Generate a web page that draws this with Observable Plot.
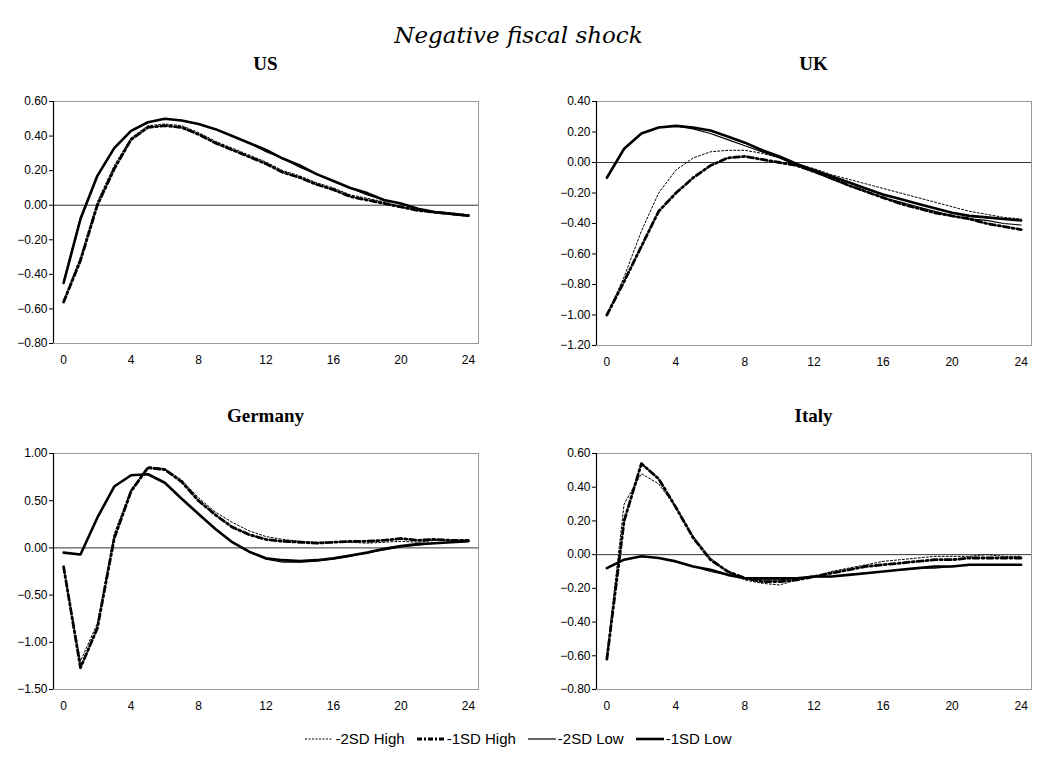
<!DOCTYPE html>
<html>
<head>
<meta charset="utf-8">
<script src="https://cdn.jsdelivr.net/npm/d3@7"></script>
<script src="https://cdn.jsdelivr.net/npm/@observablehq/plot@0.6"></script>
<style>
  body { margin: 0; background: #fff; }
  #root { position: relative; width: 1037px; height: 769px; }
  .abs { position: absolute; }
  .title { font-family: "DejaVu Serif", serif; font-style: italic; font-size: 23px; width: 1037px; text-align: center; top: 22px; left: 0; }
  .ptitle { font-family: "Liberation Serif", serif; font-weight: bold; font-size: 19px; text-align: center; }
  .legend { font-family: "Liberation Sans", Arial, sans-serif; font-size: 15px; top: 730px; left: 0; width: 1037px; display: flex; justify-content: center; gap: 12px; align-items: center; }
  .legend span { display: flex; align-items: center; gap: 2px; }
</style>
</head>
<body>
<div id="root">
  <div class="abs title">Negative fiscal shock</div>
</div>
<script>
// horizon 0..24
var steps = d3.range(0, 25);
var seriesNames = ["-2SD High", "-1SD High", "-2SD Low", "-1SD Low"];

// US
var usHigh2 = [-0.55,-0.30,0.02,0.23,0.39,0.46,0.47,0.46,0.42,0.37,0.33,0.29,0.25,0.20,0.17,0.13,0.10,0.06,0.04,0.02,-0.01,-0.03,-0.04,-0.05,-0.06];
var usHigh1 = [-0.56,-0.32,0.00,0.21,0.38,0.45,0.46,0.45,0.41,0.36,0.32,0.28,0.24,0.19,0.16,0.12,0.09,0.05,0.03,0.01,-0.01,-0.03,-0.04,-0.05,-0.06];
var usLow2 = [-0.44,-0.07,0.17,0.33,0.43,0.48,0.50,0.49,0.47,0.44,0.40,0.36,0.31,0.27,0.22,0.18,0.14,0.10,0.06,0.03,0.01,-0.02,-0.04,-0.05,-0.06];
var usLow1 = [-0.45,-0.08,0.17,0.33,0.43,0.48,0.50,0.49,0.47,0.44,0.40,0.36,0.32,0.27,0.23,0.18,0.14,0.10,0.07,0.03,0.01,-0.02,-0.04,-0.05,-0.06];

// UK
var ukHigh2 = [-1.00,-0.75,-0.45,-0.20,-0.05,0.03,0.07,0.08,0.08,0.06,0.03,-0.01,-0.04,-0.08,-0.11,-0.14,-0.17,-0.20,-0.23,-0.26,-0.29,-0.32,-0.34,-0.36,-0.37];
var ukHigh1 = [-1.00,-0.78,-0.55,-0.32,-0.20,-0.10,-0.02,0.03,0.04,0.02,0.00,-0.02,-0.06,-0.10,-0.15,-0.19,-0.23,-0.27,-0.30,-0.33,-0.35,-0.37,-0.40,-0.42,-0.44];
var ukLow2 = [-0.10,0.09,0.19,0.23,0.24,0.22,0.19,0.15,0.11,0.07,0.03,-0.02,-0.06,-0.11,-0.15,-0.19,-0.23,-0.26,-0.29,-0.32,-0.35,-0.37,-0.38,-0.40,-0.41];
var ukLow1 = [-0.10,0.09,0.19,0.23,0.24,0.23,0.21,0.17,0.13,0.08,0.04,-0.01,-0.05,-0.09,-0.13,-0.17,-0.21,-0.24,-0.27,-0.30,-0.33,-0.35,-0.36,-0.37,-0.38];

// Germany
var deHigh2 = [-0.22,-1.20,-0.80,0.15,0.62,0.86,0.84,0.72,0.53,0.38,0.27,0.18,0.12,0.09,0.07,0.06,0.06,0.06,0.05,0.06,0.07,0.06,0.08,0.08,0.08];
var deHigh1 = [-0.20,-1.27,-0.85,0.10,0.60,0.85,0.83,0.70,0.50,0.35,0.22,0.14,0.09,0.07,0.06,0.05,0.06,0.07,0.07,0.08,0.10,0.08,0.09,0.08,0.08];
var deLow2 = [-0.05,-0.07,0.32,0.65,0.77,0.78,0.69,0.52,0.36,0.20,0.06,-0.04,-0.12,-0.15,-0.15,-0.14,-0.12,-0.09,-0.05,-0.02,0.01,0.03,0.05,0.06,0.07];
var deLow1 = [-0.05,-0.07,0.32,0.65,0.77,0.78,0.69,0.52,0.36,0.20,0.06,-0.04,-0.11,-0.13,-0.14,-0.13,-0.11,-0.08,-0.05,-0.01,0.02,0.04,0.05,0.06,0.07];

// Italy
var itHigh2 = [-0.60,0.30,0.48,0.42,0.28,0.11,-0.02,-0.10,-0.15,-0.17,-0.18,-0.15,-0.13,-0.10,-0.08,-0.06,-0.04,-0.03,-0.02,-0.01,-0.01,-0.01,0.00,-0.01,-0.01];
var itHigh1 = [-0.62,0.20,0.54,0.45,0.28,0.10,-0.03,-0.10,-0.14,-0.16,-0.16,-0.15,-0.13,-0.11,-0.09,-0.07,-0.06,-0.05,-0.04,-0.03,-0.03,-0.02,-0.02,-0.02,-0.02];
var itLow2 = [-0.08,-0.03,-0.01,-0.02,-0.04,-0.07,-0.10,-0.12,-0.14,-0.15,-0.15,-0.14,-0.13,-0.13,-0.12,-0.11,-0.10,-0.09,-0.08,-0.08,-0.07,-0.06,-0.06,-0.06,-0.06];
var itLow1 = [-0.08,-0.03,-0.01,-0.02,-0.04,-0.07,-0.09,-0.12,-0.14,-0.14,-0.14,-0.14,-0.13,-0.13,-0.12,-0.11,-0.10,-0.09,-0.08,-0.07,-0.07,-0.06,-0.06,-0.06,-0.06];

// line styles per series
var styles = [
  { width: 1, dash: "2,2" },
  { width: 2.8, dash: "6,3,2,3" },
  { width: 1.2, dash: null },
  { width: 2.6, dash: null }
];

var panels = [
  { name: "US", series: [usHigh2, usHigh1, usLow2, usLow1], domain: [-0.8, 0.6], step: 0.2, left: 0, top: 91, h: 242, ml: 53, mr: 12, w: 490 },
  { name: "UK", series: [ukHigh2, ukHigh1, ukLow2, ukLow1], domain: [-1.2, 0.4], step: 0.2, left: 540, top: 91, h: 244, ml: 56, mr: 6, w: 497 },
  { name: "Germany", series: [deHigh2, deHigh1, deLow2, deLow1], domain: [-1.5, 1.0], step: 0.5, left: 0, top: 443, h: 236, ml: 53, mr: 12, w: 490 },
  { name: "Italy", series: [itHigh2, itHigh1, itLow2, itLow1], domain: [-0.8, 0.6], step: 0.2, left: 540, top: 443, h: 236, ml: 56, mr: 6, w: 497 }
];

var root = document.getElementById("root");

panels.forEach(function(p) {
  var marks = [
    Plot.frame({ stroke: "#999" }),
    Plot.ruleY([0], { stroke: "#000", strokeWidth: 0.8 }),
    Plot.ruleX([-0.6], { stroke: "#000", strokeWidth: 1.2 }),
    Plot.axisY({ ticks: d3.range(p.domain[0], p.domain[1] + 1e-9, p.step), tickFormat: d3.format(".2f"), tickSize: 4, tickPadding: 2, fontSize: 12, label: null }),
    Plot.axisX({ ticks: d3.range(0, 25, 4), tickSize: 0, tickPadding: 12, fontSize: 12, label: null })
  ];
  p.series.forEach(function(vals, i) {
    var rows = steps.map(function(s) { return { x: s, y: vals[s] }; });
    marks.push(Plot.line(rows, {
      x: "x", y: "y", stroke: "#000",
      strokeWidth: styles[i].width,
      strokeDasharray: styles[i].dash
    }));
  });

  var chart = Plot.plot({
    width: p.w,
    height: p.h + 40,
    marginLeft: p.ml,
    marginRight: p.mr,
    marginTop: 10,
    marginBottom: 30,
    style: { fontFamily: "Liberation Sans, Arial, sans-serif", fontSize: "12px", color: "#000", background: "#fff" },
    x: { domain: [-0.6, 24.6], axis: null },
    y: { domain: p.domain, axis: null },
    marks: marks
  });
  chart.classList.add("abs");
  chart.style.left = p.left + "px";
  chart.style.top = p.top + "px";
  root.appendChild(chart);

  var t = document.createElement("div");
  t.className = "abs ptitle";
  t.textContent = p.name;
  t.style.left = (p.left + p.ml) + "px";
  t.style.width = (p.w - p.ml - p.mr) + "px";
  t.style.top = (p.top - 38) + "px";
  root.appendChild(t);
});

// legend
var leg = document.createElement("div");
leg.className = "abs legend";
seriesNames.forEach(function(n, i) {
  var sp = document.createElement("span");
  var dash = styles[i].dash ? ' stroke-dasharray="' + (i === 0 ? "2,1.5" : "5,2,2,2") + '"' : "";
  sp.innerHTML = '<svg width="28" height="10"><line x1="0" y1="5" x2="28" y2="5" stroke="#000" stroke-width="' + styles[i].width + '"' + dash + '/></svg>' + n;
  leg.appendChild(sp);
});
root.appendChild(leg);
</script>
</body>
</html>
